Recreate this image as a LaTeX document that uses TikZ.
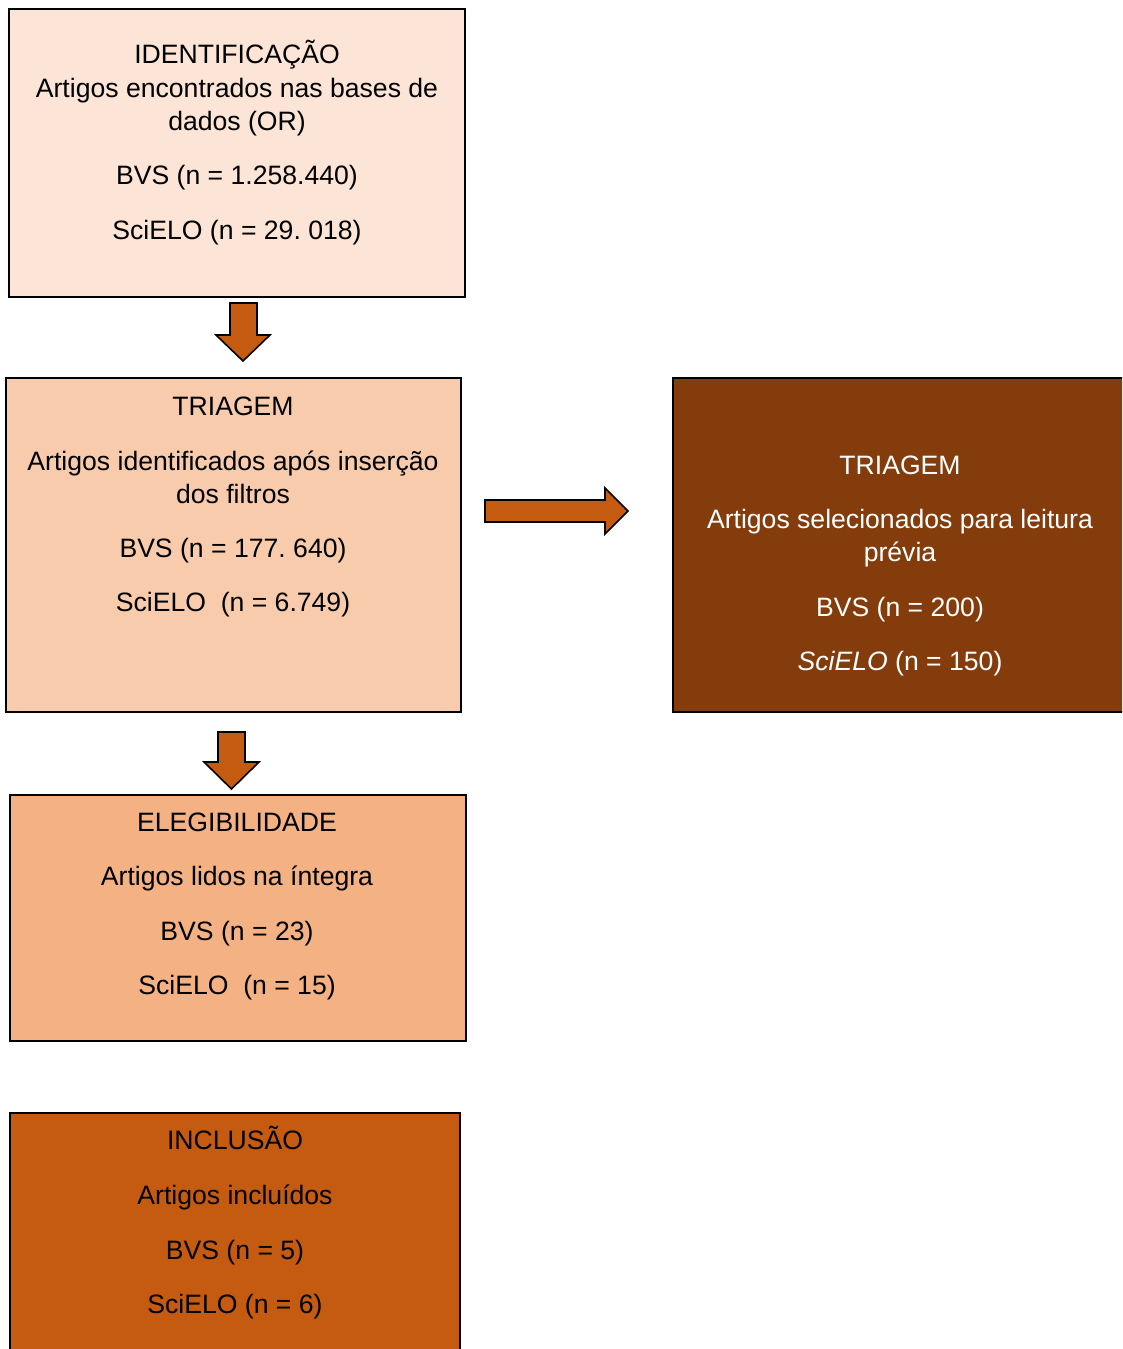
\documentclass[tikz,border=0pt]{standalone}
\usepackage{fontspec}
\setmainfont{Liberation Sans}
\frenchspacing
\definecolor{c1}{HTML}{FCE4D6}
\definecolor{c2}{HTML}{F8CBAD}
\definecolor{c3}{HTML}{843C0C}
\definecolor{c4}{HTML}{F4B183}
\definecolor{c5}{HTML}{C55A11}
\begin{document}
\begin{tikzpicture}[x=1pt,y=-1pt,
  boxframe/.style={draw=black,line width=2.4pt,inner sep=0pt,outer sep=0pt},
  blockarrow/.style={draw=black,line width=1.6pt,fill=c5,line join=miter},
  txt/.style={anchor=base,inner sep=0pt,font=\fontsize{26.6}{30}\selectfont},
  wtxt/.style={txt,text=white}]
\useasboundingbox (0,0) rectangle (1122,1349);
\clip (0,0) rectangle (1122,1349);
% boxes
\node[boxframe,fill=c1,minimum width=456pt,minimum height=288pt] (ident) at (237,153) {};
\node[boxframe,fill=c2,minimum width=455pt,minimum height=334pt] (triag) at (233.5,545) {};
\node[boxframe,fill=c3,minimum width=460pt,minimum height=334pt] (triag2) at (903,545) {};
\node[boxframe,fill=c4,minimum width=456pt,minimum height=246pt] (eleg) at (238,918) {};
\node[boxframe,fill=c5,minimum width=450pt,minimum height=250pt] (incl) at (235,1238) {};
% arrows
\draw[blockarrow] (230,303) -- (257,303) -- (257,335) -- (270,335) -- (243,361) -- (216,335) -- (230,335) -- cycle;
\draw[blockarrow] (485,500) -- (605,500) -- (605,488) -- (628,511) -- (605,534) -- (605,522) -- (485,522) -- cycle;
\draw[blockarrow] (218,732) -- (245,732) -- (245,762) -- (259,762) -- (231.5,789) -- (204,762) -- (218,762) -- cycle;
% texts box 1
\node[txt] (t11) at (237,63) {IDENTIFICAÇÃO};
\node[txt] (t12) at (237,97) {Artigos encontrados nas bases de};
\node[txt] (t13) at (237,130) {dados (OR)};
\node[txt] (t14) at (237,184) {BVS (n = 1.258.440)};
\node[txt] (t15) at (237,239) {SciELO (n = 29. 018)};
% box 2
\node[txt] (t21) at (233,415) {TRIAGEM};
\node[txt] (t22) at (233,470) {Artigos identificados após inserção};
\node[txt] (t23) at (233,503) {dos filtros};
\node[txt] (t24) at (233,557) {BVS (n = 177. 640)};
\node[txt] (t25) at (233,611) {SciELO\ \ (n = 6.749)};
% box 3
\node[wtxt] (t31) at (900,474) {TRIAGEM};
\node[wtxt] (t32) at (900,528) {Artigos selecionados para leitura};
\node[wtxt] (t33) at (900,561) {prévia};
\node[wtxt] (t34) at (900,616) {BVS (n = 200)};
\node[wtxt] (t35) at (900,670) {\textit{SciELO} (n = 150)};
% box 4
\node[txt] (t41) at (237,831) {ELEGIBILIDADE};
\node[txt] (t42) at (237,885) {Artigos lidos na íntegra};
\node[txt] (t43) at (237,940) {BVS (n = 23)};
\node[txt] (t44) at (237,994) {SciELO\ \ (n = 15)};
% box 5
\node[txt] (t51) at (235,1149) {INCLUSÃO};
\node[txt] (t52) at (235,1204) {Artigos incluídos};
\node[txt] (t53) at (235,1259) {BVS (n = 5)};
\node[txt] (t54) at (235,1313) {SciELO (n = 6)};
\end{tikzpicture}
\end{document}
